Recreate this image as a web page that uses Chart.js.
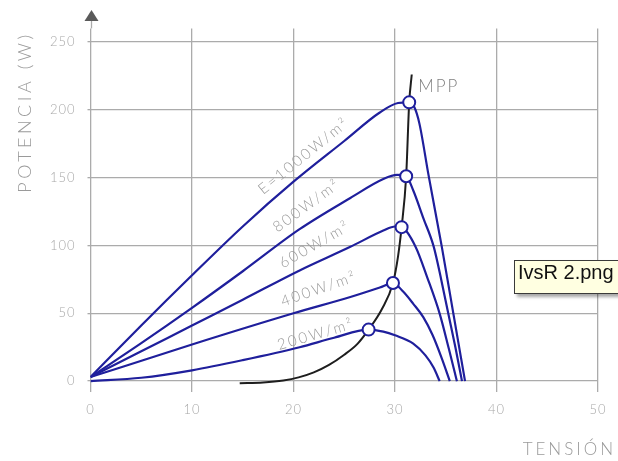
<!DOCTYPE html>
<html>
<head>
<meta charset="utf-8">
<script src="https://cdn.jsdelivr.net/npm/chart.js@4.4.1/dist/chart.umd.min.js"></script>
<style>
  html, body { margin:0; padding:0; background:#fff; overflow:hidden; }
  #wrap { position:relative; width:618px; height:461px; }
  #tip { position:absolute; left:514px; top:260px; height:32px; padding:0 6px 0 3px; background:#ffffe1;
         border:1px solid #3a3a3a; color:#111; white-space:nowrap; line-height:32px;
         font:20px "Liberation Sans", Arial, sans-serif; box-shadow:3px 3px 3px rgba(0,0,0,.35); }
</style>
</head>
<body>
<div id="wrap">
  <canvas id="c" width="618" height="461"></canvas>
  <div id="tip">IvsR 2.png</div>
</div>
<script>
// Curvas P-V por irradiancia (tension V, potencia W)
var V_1000 = [0, 5, 10, 15, 20, 25, 28.5, 30.3, 31.4, 31.9, 32.4, 33.3, 34.6, 35.75, 36.9];
var P_1000 = [3, 41, 78, 114, 147, 177, 198, 205, 205.5, 202, 190, 152, 99.5, 49.8, 0];

var V_800 = [0, 5, 10, 15, 20.6, 25.6, 28.85, 30.2, 31.1, 31.8, 32.8, 33.8, 34.55, 35.25, 35.95, 36.6];
var P_800 = [3, 28, 54, 81, 112, 135, 149, 152, 151, 140.5, 120, 99.5, 75, 49.8, 25, 0];

var V_600 = [0, 5, 10, 15, 20.6, 25.6, 28.85, 30, 30.65, 32, 33.2, 34.4, 35.3, 36.1];
var P_600 = [3, 22, 41, 60, 81.6, 99, 111, 114, 113.5, 99.5, 76, 49.8, 24, 0];

var V_400 = [0, 10, 20, 25.6, 28.5, 29.8, 30.8, 31.8, 32.8, 33.7, 34.6, 35.4];
var P_400 = [3, 27, 50, 62, 69, 72.3, 66, 57, 47, 34, 17, 0];

var V_200 = [0, 5, 10, 15, 20.6, 24, 27.4, 28.85, 30, 31.8, 33, 33.8, 34.4];
var P_200 = [0, 2.5, 8, 15.5, 25, 32, 38, 36.5, 33.8, 27.7, 19, 10, 0];

// curva de puntos de maxima potencia
var V_MPP = [14.7, 17, 19, 20.5, 22, 23.5, 25, 26.3, 27.4, 28.7, 29.8, 30.3, 30.65, 31.1, 31.4, 31.65];
var P_MPP = [-1.6, -1, 0.5, 2.8, 6.5, 12, 19.5, 27.5, 38, 53, 72.3, 92, 113.5, 151, 205.5, 226];

// puntos MPP marcados
var V_MARK = [31.4, 31.1, 30.65, 29.8, 27.4];
var P_MARK = [205.5, 151, 113.5, 72.3, 38];

var Y_TICKS = [0, 50, 100, 150, 200, 250];
var X_TICKS = [0, 10, 20, 30, 40, 50];

// etiquetas de las curvas (texto, V, P del centro, angulo)
var LBL_TEXT = ["E=1000W/m²", "800W/m²", "600W/m²", "400W/m²", "200W/m²"];
var LBL_V = [21.0, 21.3, 22.1, 22.5, 22.2];
var LBL_P = [166, 129.4, 100.7, 68, 34.5];
var LBL_ANG = [-39, -36, -30, -19, -16];

var BLUE = "#1f1f9c", GRID = "#ababab", TXT = "#a8a8a8";
var FONT = "Lato, 'Open Sans', sans-serif";

function pts(xs, ys){ return xs.map(function(v,i){ return {x:v, y:ys[i]}; }); }
function curve(xs, ys, col, w){
  return { data: pts(xs, ys), borderColor: col, borderWidth: w, pointRadius: 0,
           showLine: true, fill: false, cubicInterpolationMode: "monotone" };
}

var decor = {
  id: "decor",
  beforeDraw: function(chart){ chart.ctx.letterSpacing = "1px"; },
  afterDraw: function(chart){
    var ctx = chart.ctx, xs = chart.scales.x, ys = chart.scales.y, ca = chart.chartArea;
    var ax = Math.round(xs.getPixelForValue(0)) + 0.5;
    ctx.save();
    // eje y con flecha
    ctx.strokeStyle = GRID; ctx.lineWidth = 1.3;
    ctx.beginPath(); ctx.moveTo(ax, 20); ctx.lineTo(ax, ca.top); ctx.stroke();
    ctx.fillStyle = "#5a5a5a";
    ctx.beginPath(); ctx.moveTo(ax, 10); ctx.lineTo(ax - 7, 21); ctx.lineTo(ax + 7, 21); ctx.closePath(); ctx.fill();

    // titulos
    ctx.fillStyle = "#9a9a9a";
    ctx.font = "300 18px " + FONT;
    ctx.letterSpacing = "3.5px";
    ctx.textBaseline = "middle";
    ctx.save();
    ctx.translate(25, 112); ctx.rotate(-Math.PI/2);
    ctx.textAlign = "center"; ctx.fillText("POTENCIA (W)", 0, 0);
    ctx.restore();
    ctx.font = "300 17px " + FONT;
    ctx.letterSpacing = "3px";
    ctx.textAlign = "right"; ctx.fillText("TENSIÓN", 616, 450);

    // MPP
    ctx.fillStyle = "#808080";
    ctx.letterSpacing = "2px";
    ctx.textAlign = "left";
    ctx.fillText("MPP", xs.getPixelForValue(32.3), ys.getPixelForValue(217));

    // etiquetas de irradiancia
    ctx.fillStyle = "#9c9c9c";
    ctx.font = "300 15px " + FONT;
    ctx.letterSpacing = "2.2px";
    ctx.textAlign = "center";
    LBL_TEXT.forEach(function(t, i){
      ctx.save();
      ctx.translate(xs.getPixelForValue(LBL_V[i]), ys.getPixelForValue(LBL_P[i]));
      ctx.rotate(LBL_ANG[i] * Math.PI / 180);
      ctx.fillText(t, 0, 0);
      ctx.restore();
    });
    ctx.restore();
  }
};

new Chart(document.getElementById("c"), {
  type: "scatter",
  data: {
    datasets: [
      { data: pts(V_MARK, P_MARK), pointRadius: 6, pointBackgroundColor: "#fff",
        pointBorderColor: BLUE, pointBorderWidth: 2, showLine: false },
      curve(V_1000, P_1000, BLUE, 2.2),
      curve(V_800, P_800, BLUE, 2.2),
      curve(V_600, P_600, BLUE, 2.2),
      curve(V_400, P_400, BLUE, 2.2),
      curve(V_200, P_200, BLUE, 2.2),
      curve(V_MPP, P_MPP, "#1e1e1e", 2)
    ]
  },
  options: {
    responsive: false, animation: false, devicePixelRatio: 1,
    layout: { padding: { left: 10.5, right: 20, top: 28.4, bottom: 29 } },
    plugins: { legend: { display: false }, tooltip: { enabled: false } },
    scales: {
      x: {
        type: "linear", min: 0, max: 50,
        afterBuildTicks: function(s){ s.ticks = X_TICKS.map(function(v){ return {value:v}; }); },
        afterFit: function(s){ s.height = 40; },
        ticks: { color: TXT, padding: 10, font: { family: FONT, size: 13, weight: "300" } },
        grid: { color: GRID, lineWidth: 1.3, drawTicks: false },
        border: { display: false }
      },
      y: {
        min: -8, max: 260,
        afterBuildTicks: function(s){ s.ticks = Y_TICKS.map(function(v){ return {value:v}; }); },
        afterFit: function(s){ s.width = 80; },
        ticks: { color: TXT, padding: 12, font: { family: FONT, size: 13, weight: "300" } },
        grid: { color: GRID, lineWidth: 1.3, drawTicks: true, tickLength: 3 },
        border: { display: false }
      }
    }
  },
  plugins: [decor]
});
</script>
</body>
</html>
